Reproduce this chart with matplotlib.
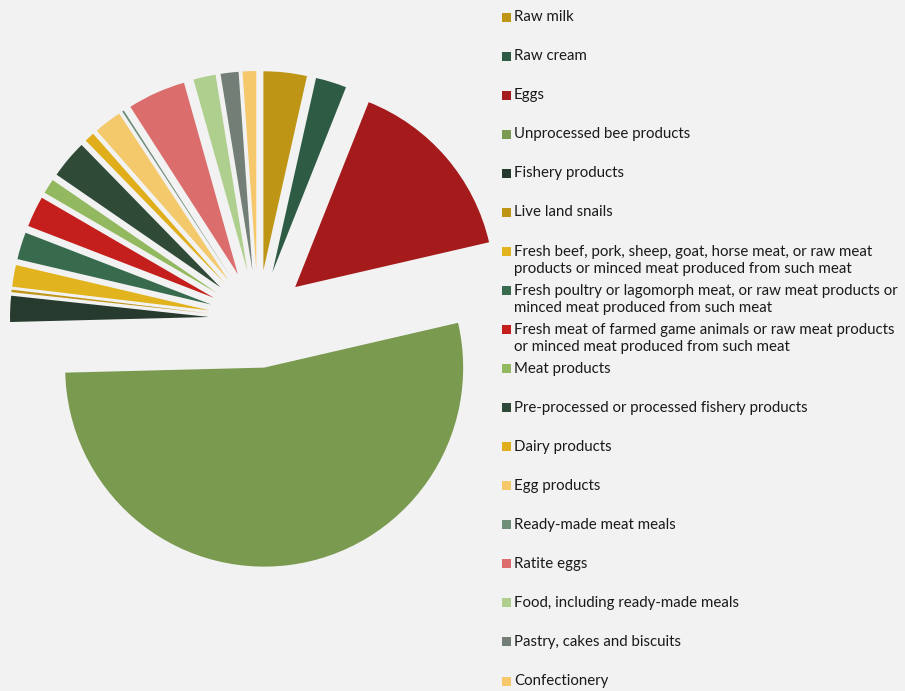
import matplotlib
matplotlib.use('Agg')
import matplotlib.pyplot as plt
from matplotlib.patches import Rectangle

categories = [
    "Raw milk",
    "Raw cream",
    "Eggs",
    "Unprocessed bee products",
    "Fishery products",
    "Live land snails",
    "Fresh beef, pork, sheep, goat, horse meat, or raw meat\nproducts or minced meat produced from such meat",
    "Fresh poultry or lagomorph meat, or raw meat products or\nminced meat produced from such meat",
    "Fresh meat of farmed game animals or raw meat products\nor minced meat produced from such meat",
    "Meat products",
    "Pre-processed or processed fishery products",
    "Dairy products",
    "Egg products",
    "Ready-made meat meals",
    "Ratite eggs",
    "Food, including ready-made meals",
    "Pastry, cakes and biscuits",
    "Confectionery",
]
values = [3.5, 2.5, 15.3, 53.0, 2.1, 0.2, 1.75, 2.2, 2.5, 1.2, 3.1, 0.8, 2.25, 0.15, 4.7, 1.8, 1.45, 1.1]
colors = ["#BF9516", "#2E5B43", "#A51A1A", "#7A9A50", "#263A2D", "#BF9516",
          "#E1B31D", "#386B4E", "#C41F1C", "#93B960", "#304A38", "#E0AE1A",
          "#F4C96B", "#6F8F7A", "#DB6E6C", "#AFCF8E", "#737F76", "#F5C86B"]

BG = "#F2F2F2"
W, H = 905, 691
fig = plt.figure(figsize=(W / 100, H / 100), dpi=100, facecolor=BG)
ax = fig.add_axes([0, 0, 1, 1])
ax.set_facecolor(BG)

cx, cy, r = 258, H - 319, 199
ax.pie(values, colors=colors, startangle=90, counterclock=False,
       explode=[49] * len(values), radius=r, center=(cx, cy),
       wedgeprops=dict(linewidth=0))
ax.set_xlim(0, W)
ax.set_ylim(0, H)
ax.set_aspect('auto')
ax.axis('off')

# legend (manual, fixed slot spacing like the original)
plt.rcParams['font.family'] = ['Lato', 'DejaVu Sans']
y0, step = 17, 39.06
for i, (lab, col) in enumerate(zip(categories, colors)):
    yc = y0 + step * i
    fig.patches.append(Rectangle((502 / W, 1 - (yc + 4.5) / H), 9 / W, 9 / H,
                                 transform=fig.transFigure, facecolor=col,
                                 edgecolor='none'))
    fig.text(514 / W, 1 - (yc - 6.8) / H, lab, ha='left', va='top',
             fontsize=10.8, color='#1A1A1A', linespacing=1.3)

fig.savefig('out.png', dpi=100, facecolor=BG)
